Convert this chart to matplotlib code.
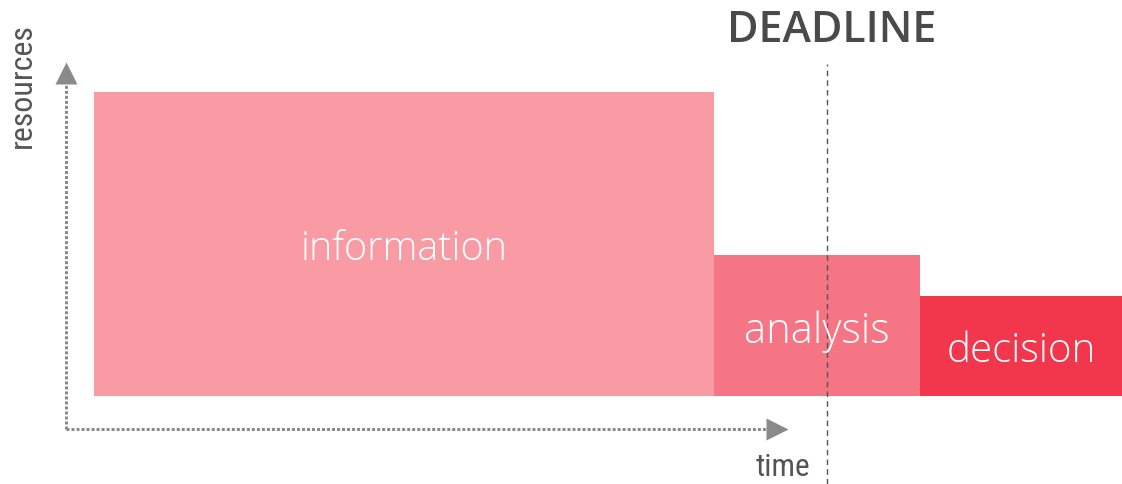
import matplotlib.pyplot as plt
from matplotlib import font_manager

# phases of the project: start, length and resources used
phases = ["information", "analysis", "decision"]
starts = [0, 620, 826]
lengths = [620, 206, 202]
resources = [304, 141, 100]
colors = ["#F99BA5", "#F57585", "#F2364B"]
label_sizes = [28.5, 30, 29]

deadline = 733

fig = plt.figure(figsize=(11.22, 4.85), dpi=100)
ax = fig.add_axes([0, 0, 1, 1])
ax.set_xlim(-94, 1028)
ax.set_ylim(-88, 397)
ax.axis("off")

names = set(f.name for f in font_manager.fontManager.ttflist)
narrow = "DejaVu Sans"
for cand in ["Roboto Condensed", "Liberation Sans Narrow", "Open Sans Condensed"]:
    if cand in names:
        narrow = cand
        break

ax.bar(starts, resources, width=lengths, align="edge", color=colors, zorder=2)
for s, l, r, name, fs in zip(starts, lengths, resources, phases, label_sizes):
    ax.text(s + l / 2, r / 2 - 5, name, ha="center", va="center", color="white",
            fontsize=fs, family="Open Sans", fontweight="light", zorder=4)

# axes arrows
dots = dict(ls=(0, (1, 0.67)), lw=2.16, color="#8A8A8A", zorder=1,
            dash_capstyle="butt")
ax.plot([-28, -28], [-33, 320], **dots)
ax.plot([-28, 680], [-33, -33], **dots)
ax.plot(-28, 323, marker="^", ms=16, color="#8A8A8A", mec="none", zorder=1)
ax.plot(683, -33, marker=">", ms=16, color="#8A8A8A", mec="none", zorder=1)
ax.text(-72, 311, "resources", rotation=90, ha="center", va="center",
        fontsize=23, color="#555555", family=narrow)
ax.text(689, -71, "time", ha="center", va="center", fontsize=22.5,
        color="#555555", family=narrow)

# deadline
ax.plot([deadline, deadline], [-88, 332], ls=(0, (4, 3)), lw=1, color="#555555", zorder=3)
ax.text(738, 367, "DEADLINE", ha="center", va="center", fontsize=31,
        color="#4A4A4A", family="Open Sans", fontweight="semibold")

fig.savefig("out.png")
